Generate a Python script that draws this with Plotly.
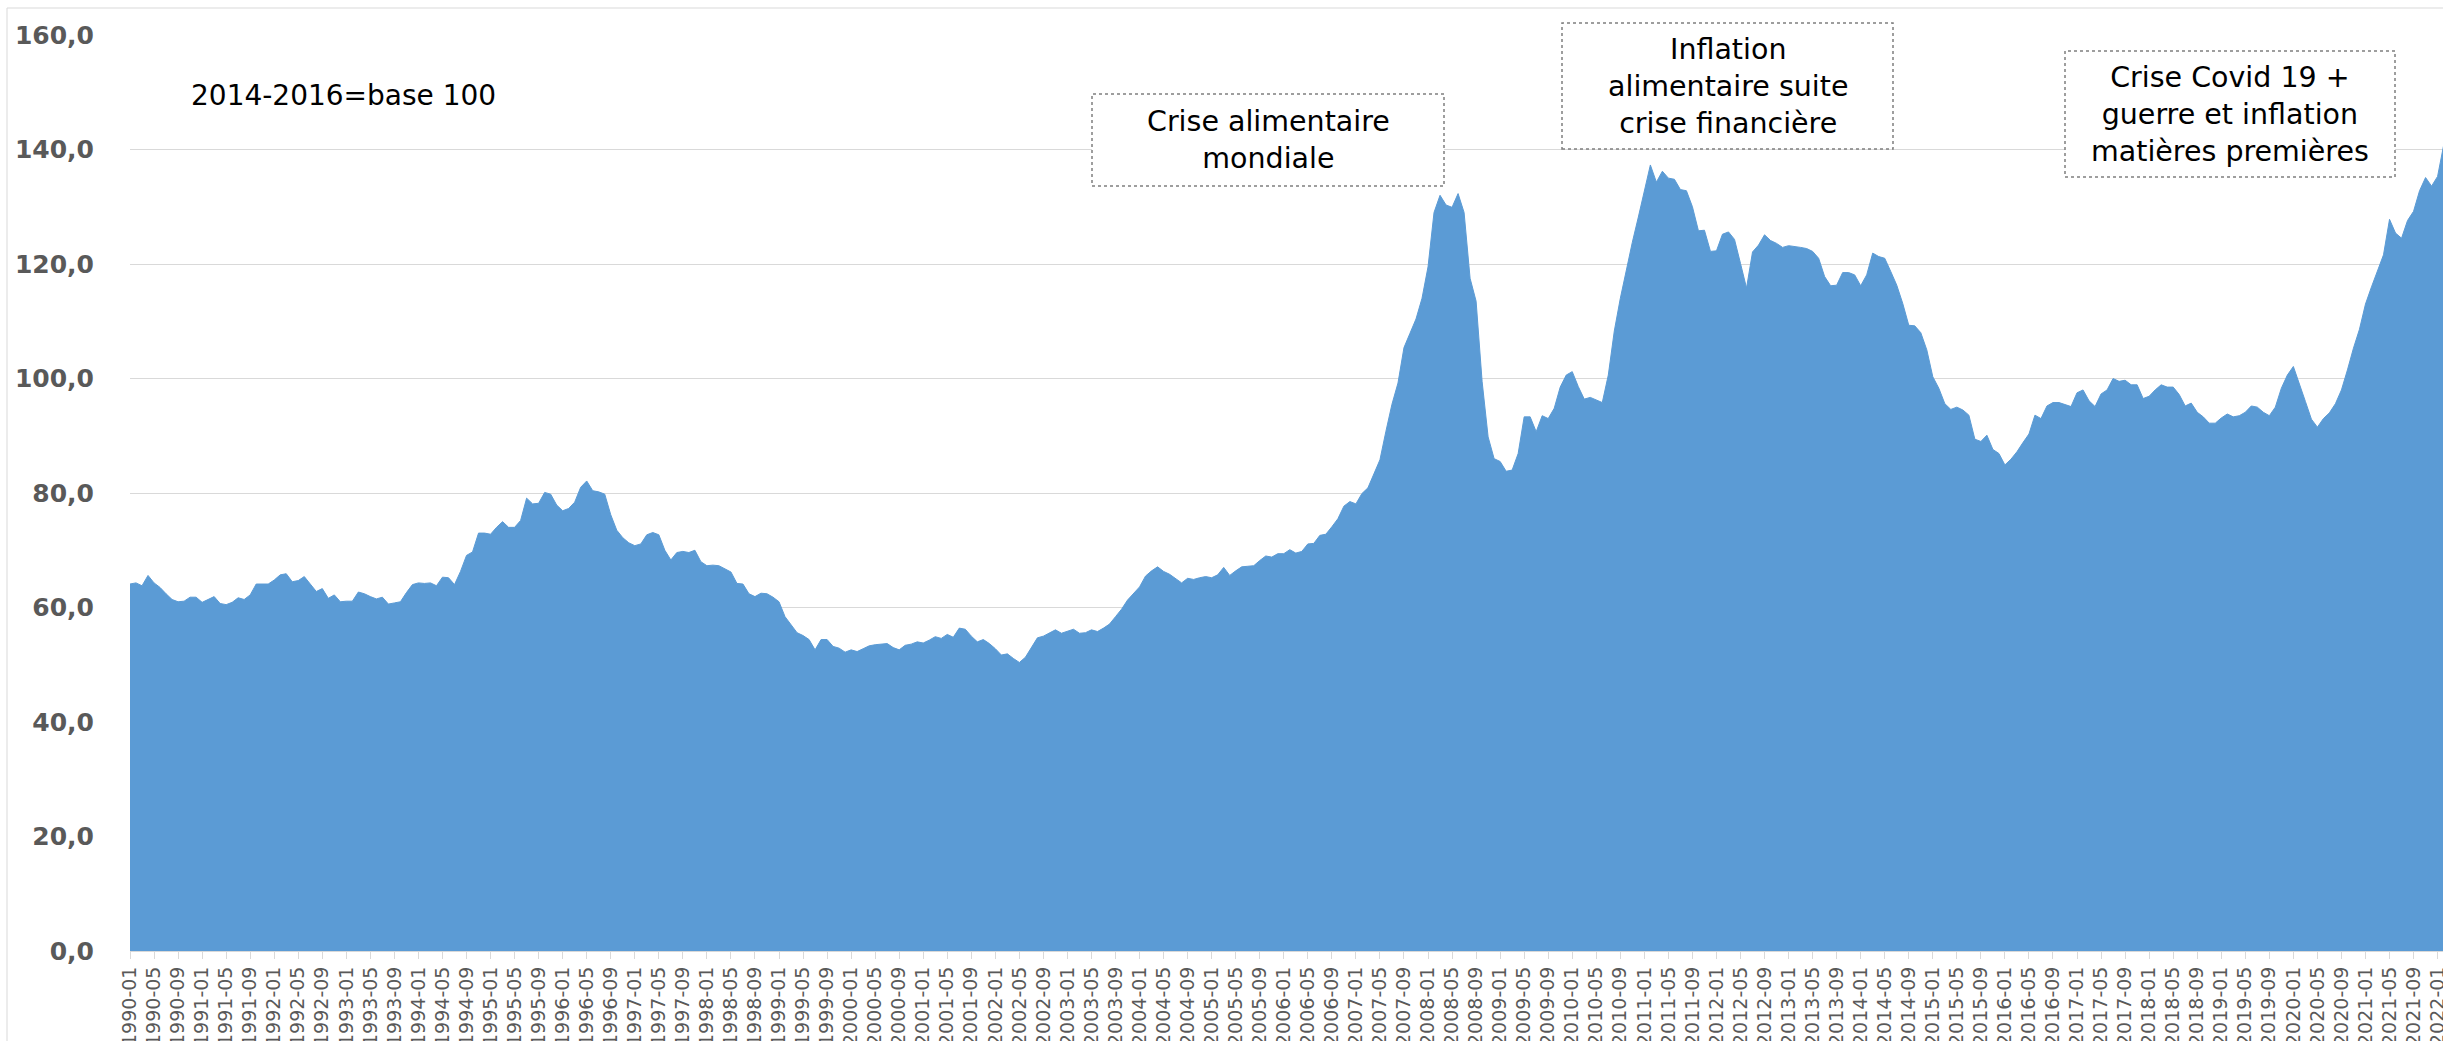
import plotly.graph_objects as go

# FAO food price index (2014-2016 = 100), monthly
values_1990s = [
    64.1, 64.3, 63.8, 65.6, 64.3, 63.5, 62.4, 61.4, 61.0, 61.1, 61.8, 61.8,   # 1990
    60.9, 61.4, 61.9, 60.7, 60.5, 60.9, 61.7, 61.4, 62.2, 64.1, 64.1, 64.1,   # 1991
    64.8, 65.7, 65.9, 64.5, 64.7, 65.4, 64.1, 62.8, 63.3, 61.6, 62.2, 61.0,   # 1992
    61.1, 61.1, 62.7, 62.4, 61.9, 61.5, 61.8, 60.6, 60.8, 61.0, 62.6, 64.0,   # 1993
    64.3, 64.2, 64.3, 63.8, 65.3, 65.2, 64.0, 66.3, 69.1, 69.7, 73.0, 73.0,   # 1994
    72.8, 74.0, 75.0, 74.0, 74.0, 75.2, 79.1, 78.1, 78.2, 80.1, 79.8, 77.9,   # 1995
    76.9, 77.3, 78.4, 81.0, 82.1, 80.4, 80.2, 79.8, 76.2, 73.5, 72.2, 71.3,   # 1996
    70.8, 71.1, 72.7, 73.1, 72.7, 70.0, 68.3, 69.6, 69.8, 69.6, 70.0, 68.0,   # 1997
    67.3, 67.4, 67.3, 66.8, 66.2, 64.2, 64.1, 62.4, 61.9, 62.5, 62.4, 61.8,   # 1998
    61.0, 58.4, 56.9, 55.6, 55.1, 54.4, 52.6, 54.4, 54.4, 53.2, 52.9, 52.2,   # 1999
]
values_2000s = [
    52.6, 52.3, 52.8, 53.3, 53.5, 53.6, 53.7, 53.0, 52.6, 53.4, 53.6, 54.0,   # 2000
    53.8, 54.3, 54.9, 54.6, 55.3, 54.8, 56.4, 56.2, 55.0, 54.0, 54.4, 53.7,   # 2001
    52.8, 51.7, 51.9, 51.1, 50.4, 51.3, 53.0, 54.7, 55.0, 55.6, 56.1, 55.5,   # 2002
    55.8, 56.2, 55.5, 55.6, 56.1, 55.8, 56.4, 57.1, 58.4, 59.7, 61.3, 62.5,   # 2003
    63.6, 65.5, 66.4, 67.1, 66.3, 65.8, 65.1, 64.3, 65.1, 64.9, 65.2, 65.4,   # 2004
    65.2, 65.7, 67.0, 65.6, 66.4, 67.1, 67.2, 67.3, 68.2, 69.0, 68.8, 69.4,   # 2005
    69.4, 70.1, 69.5, 69.8, 71.1, 71.2, 72.6, 72.8, 74.1, 75.5, 77.7, 78.5,   # 2006
    78.1, 79.9, 80.9, 83.5, 85.8, 90.8, 95.5, 99.2, 105.4, 107.9, 110.4, 114.0,  # 2007
    119.5, 129.0, 132.0, 130.3, 129.9, 132.3, 129.0, 117.5, 113.5, 99.5, 89.8, 86.0,  # 2008
    85.5, 83.8, 84.0, 86.9, 93.3, 93.3, 90.7, 93.5, 93.0, 94.8, 98.5, 100.6,  # 2009
]
values_2010s = [
    101.2, 98.6, 96.4, 96.7, 96.2, 95.8, 100.6, 108.3, 114.0, 119.2, 123.8, 128.2,  # 2010
    132.8, 137.3, 134.3, 136.2, 135.0, 134.8, 133.0, 132.8, 130.0, 125.8, 125.9, 122.2,  # 2011
    122.3, 125.2, 125.6, 124.3, 120.1, 115.8, 122.1, 123.3, 125.1, 124.1, 123.6, 122.9,  # 2012
    123.2, 123.1, 122.9, 122.7, 122.2, 121.0, 117.8, 116.2, 116.3, 118.5, 118.5, 118.1,  # 2013
    116.2, 118.1, 121.9, 121.3, 121.0, 118.7, 116.3, 113.1, 109.3, 109.2, 108.0, 105.0,  # 2014
    100.3, 98.3, 95.6, 94.6, 95.0, 94.5, 93.6, 89.4, 89.0, 90.1, 87.6, 86.9,  # 2015
    84.9, 85.9, 87.2, 88.8, 90.3, 93.6, 93.0, 95.2, 95.8, 95.8, 95.5, 95.1,   # 2016
    97.5, 98.0, 96.1, 95.1, 97.3, 98.0, 100.0, 99.5, 99.7, 98.9, 98.9, 96.5,  # 2017
    96.9, 98.0, 98.9, 98.5, 98.5, 97.2, 95.2, 95.7, 94.1, 93.3, 92.2, 92.2,   # 2018
    93.1, 93.8, 93.3, 93.5, 94.1, 95.2, 95.0, 94.1, 93.5, 95.0, 98.3, 100.6,  # 2019
]
values_2020s = [
    102.1, 99.2, 96.0, 92.9, 91.5, 93.0, 94.0, 95.6, 98.0, 101.5, 105.3, 108.6,  # 2020
    113.0, 116.0, 118.7, 121.6, 127.8, 125.4, 124.5, 127.6, 129.2, 132.8, 135.1, 133.6,  # 2021
    135.3, 140.7,  # 2022
]
values = values_1990s + values_2000s + values_2010s + values_2020s

months = [f"{y}-{m:02d}" for y in range(1990, 2023) for m in range(1, 13)][:len(values)]
tick_labels = months[::4]

y_ticks = [0, 20, 40, 60, 80, 100, 120, 140, 160]
y_tick_text = ["0,0", "20,0", "40,0", "60,0", "80,0", "100,0", "120,0", "140,0", "160,0"]

note_base = "2014-2016=base 100"
box_texts = [
    "Crise alimentaire<br>mondiale",
    "Inflation<br>alimentaire suite<br>crise financière",
    "Crise Covid 19 +<br>guerre et inflation<br>matières premières",
]

W, H = 2443, 1041
ML, MR, MT, MB = 130, 0, 35, 90
PW, PH = W - ML - MR, H - MT - MB


def px(x):
    return (x - ML) / PW


def py(y):
    return (H - MB - y) / PH


FONT = "DejaVu Sans, Verdana, sans-serif"

fig = go.Figure()
fig.add_trace(go.Scatter(
    x=months, y=values, mode="lines", fill="tozeroy",
    fillcolor="#5B9BD5", line=dict(color="#5B9BD5", width=1),
    hoverinfo="x+y", showlegend=False,
))

shapes = [
    # chart frame
    dict(type="rect", xref="paper", yref="paper",
         x0=px(7), x1=px(2460), y0=py(1060), y1=py(8),
         line=dict(color="#D9D9D9", width=1), fillcolor="rgba(0,0,0,0)", layer="below"),
]
boxes = [
    (1092, 94, 1444, 186),
    (1562, 23, 1893, 149),
    (2065, 51, 2395, 177),
]
annotations = [
    dict(text=note_base, xref="paper", yref="paper", x=px(343), y=py(95),
         xanchor="center", yanchor="middle", showarrow=False,
         font=dict(family=FONT, size=28, color="#000000")),
]
for (x0, y0, x1, y1), t in zip(boxes, box_texts):
    shapes.append(dict(type="rect", xref="paper", yref="paper",
                       x0=px(x0), x1=px(x1), y0=py(y1), y1=py(y0),
                       line=dict(color="#7F7F7F", width=1.5, dash="dot"),
                       fillcolor="#FFFFFF", layer="above"))
    annotations.append(dict(text=t, xref="paper", yref="paper",
                            x=px((x0 + x1) / 2), y=py((y0 + y1) / 2),
                            xanchor="center", yanchor="middle", showarrow=False,
                            align="center",
                            font=dict(family=FONT, size=28.5, color="#000000")))

fig.update_layout(
    width=W, height=H,
    margin=dict(l=ML, r=MR, t=MT, b=MB, pad=0),
    paper_bgcolor="#FFFFFF", plot_bgcolor="#FFFFFF",
    showlegend=False,
    shapes=shapes, annotations=annotations,
    xaxis=dict(
        type="category", range=[0, 384.9],
        tickmode="array", tickvals=tick_labels, ticktext=tick_labels,
        tickangle=-90, tickfont=dict(family=FONT, size=19, color="#595959"),
        ticks="outside", ticklen=7, tickcolor="#D9D9D9", tickwidth=1,
        showline=True, linecolor="#D9D9D9", linewidth=1,
        showgrid=False, zeroline=False, automargin=False,
        ticklabelstandoff=0,
    ),
    yaxis=dict(
        range=[0, 160], tickmode="array", tickvals=y_ticks, ticktext=y_tick_text,
        tickfont=dict(family=FONT, size=25, color="#595959", weight="bold"),
        showgrid=True, gridcolor="#D9D9D9", gridwidth=1,
        zeroline=False, showline=False, ticks="",
        automargin=False, ticklabelstandoff=35,
    ),
)

fig.write_html(
    "out.html",
    config={"displayModeBar": False},
    post_script="document.body.style.margin='0';document.body.style.overflow='hidden';",
)
